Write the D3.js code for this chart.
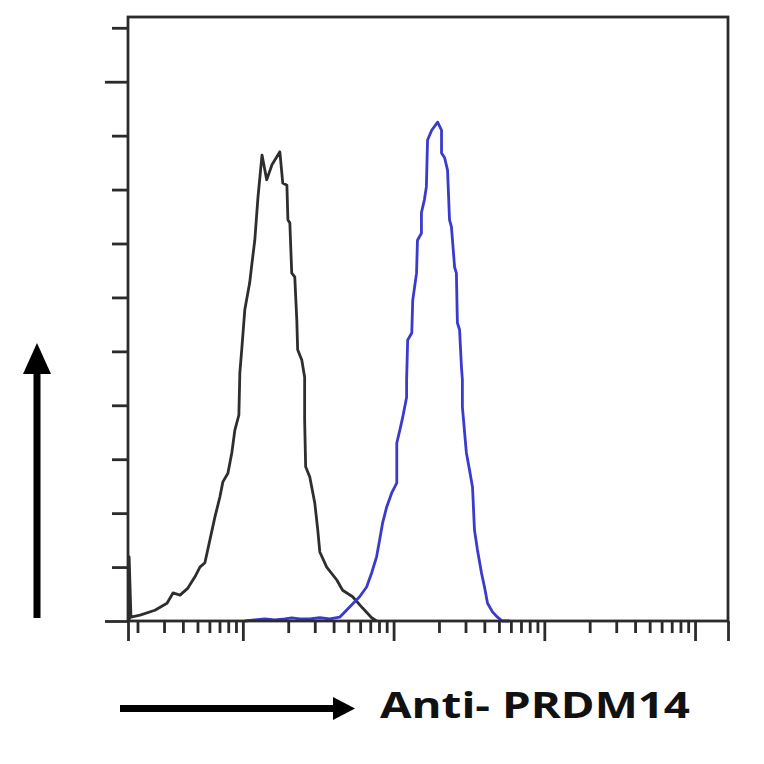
<!DOCTYPE html>
<html>
<head>
<meta charset="utf-8">
<script src="https://cdn.jsdelivr.net/npm/d3@7"></script>
<style>
  html, body { margin: 0; padding: 0; background: #fff; }
  svg { display: block; }
</style>
</head>
<body>
<svg id="chart" width="764" height="764"></svg>
<script>
// ---- data ----
const xDomain = [1.73, 16540];
const yDomain = [0, 112];
const yTicks = [0, 10, 20, 30, 40, 50, 60, 70, 80, 90, 100, 110];
const yLongTicks = [0, 100];
const xMajorTicks = [10, 100, 1000, 10000];
const xMinorTicks = [2,3,4,5,6,7,8,9, 20,30,40,50,60,70,80,90, 200,300,400,500,600,700,800,900, 2000,3000,4000,5000,6000,7000,8000,9000];
const xLabel = "Anti- PRDM14";

// isotype control (black)
const controlIntensity = [1.76,1.76,1.81,2.08,2.61,3.14,3.44,3.83,4.32,4.81,5.19,5.60,6.04,6.53,7.04,7.37,7.96,8.45,8.85,9.41,9.55,9.85,10.3,11.1,11.5,12.0,12.6,13.4,14.4,15.6,17.6,18.4,19.6,19.9,20.5,21.1,22.1,22.8,23.1,24.6,25.7,25.7,26.1,27.8,30.0,31.4,32.4,36.0,42.0,45.9,53.5,62.3,71.5,77.1];
const controlCount = [0,11.9,0.7,1.1,2.0,3.3,5.2,4.8,6.1,8.2,10.0,10.8,15.0,19.3,23.0,25.8,27.4,31.2,35.4,38.2,46.0,50.6,57.7,62.7,66.4,70.6,78.6,86.4,81.8,84.6,87.0,81.2,80.8,74.4,73.8,64.5,63.8,55.8,50.3,48.4,45.2,37.3,28.6,26.7,21.9,16.9,12.8,10.0,7.6,5.7,4.5,2.4,0.6,0];

// anti-PRDM14 (blue)
const sampleIntensity = [10.3,12.0,14.0,16.3,19.0,21.1,23.9,27.8,32.4,37.7,43.9,51.1,59.5,66.2,71.5,77.1,80.8,84.6,89.9,97.0,105,105,110,115,122,122,124,132,134,142,144,153,153,160,165,168,179,196,208,208,218,228,235,242,254,261,265,274,282,286,286,304,319,334,344,360,383,401,420,453,489,527,587];
const sampleCount = [0,0.2,0.4,0.2,0.4,0.6,0.4,0.4,0.6,0.4,0.7,2.6,4.5,6.3,8.9,11.9,15.0,18.2,21.1,23.7,25.6,33.0,35.4,37.8,41.5,44.7,52.1,53.4,59.5,64.5,70.6,71.9,75.7,78.1,80.5,89.2,91.0,92.5,91.0,86.8,85.9,83.6,74.4,73.1,65.6,64.5,55.3,54.0,47.1,44.7,39.7,31.2,28.0,24.8,16.9,13.2,8.9,6.3,3.3,1.7,0.7,0,0];

// ---- layout ----
const L = 128, R = 728, T = 17, B = 621;
const svg = d3.select("#chart");
const x = d3.scaleLog().domain(xDomain).range([L, R]);
const y = d3.scaleLinear().domain(yDomain).range([B, T]);
const axisColor = "#2b2b2b";

// curves
const line = d3.line().x(d => x(d[0])).y(d => y(d[1]));
svg.append("path")
  .datum(controlIntensity.map((v, i) => [v, controlCount[i]]))
  .attr("d", line).attr("fill", "none")
  .attr("stroke", "#2e2e2e").attr("stroke-width", 2.8).attr("stroke-linejoin", "round");
svg.append("path")
  .datum(sampleIntensity.map((v, i) => [v, sampleCount[i]]))
  .attr("d", line).attr("fill", "none")
  .attr("stroke", "#3a3acc").attr("stroke-width", 2.8).attr("stroke-linejoin", "round");

// frame
svg.append("rect").attr("x", L).attr("y", T).attr("width", R - L).attr("height", B - T)
  .attr("fill", "none").attr("stroke", axisColor).attr("stroke-width", 2.8);

// y axis ticks
const yAxisShort = d3.axisLeft(y).tickValues(yTicks.filter(t => !yLongTicks.includes(t)))
  .tickSize(16).tickFormat("");
const yAxisLong = d3.axisLeft(y).tickValues(yLongTicks).tickSize(23).tickFormat("");
[yAxisShort, yAxisLong].forEach(ax => {
  const g = svg.append("g").attr("transform", `translate(${L},0)`).call(ax);
  g.select(".domain").remove();
  g.selectAll("line").attr("stroke", axisColor).attr("stroke-width", 2.8);
});

// x axis ticks
const xMinorAxis = d3.axisBottom(x).tickValues(xMinorTicks).tickSize(12).tickFormat("");
const xMajorAxis = d3.axisBottom(x).tickValues(xMajorTicks.concat(xDomain)).tickSize(20).tickFormat("");
[xMinorAxis, xMajorAxis].forEach(ax => {
  const g = svg.append("g").attr("transform", `translate(0,${B})`).call(ax);
  g.select(".domain").remove();
  g.selectAll("line").attr("stroke", axisColor).attr("stroke-width", 2.8);
});

// arrows
svg.append("line").attr("x1", 37).attr("y1", 618).attr("x2", 37).attr("y2", 370)
  .attr("stroke", "#000").attr("stroke-width", 7);
svg.append("path").attr("d", "M37,343 L23,374 L51,374 Z").attr("fill", "#000");
svg.append("line").attr("x1", 120).attr("y1", 708.5).attr("x2", 337).attr("y2", 708.5)
  .attr("stroke", "#000").attr("stroke-width", 7);
svg.append("path").attr("d", "M355,708.5 L333,697 L333,720 Z").attr("fill", "#000");

// label
svg.append("text").attr("x", 380).attr("y", 718)
  .attr("font-family", "Open Sans, Liberation Sans, Arial, sans-serif")
  .attr("font-weight", "bold").attr("font-size", 35)
  .attr("textLength", 310).attr("lengthAdjust", "spacingAndGlyphs")
  .attr("fill", "#111").text(xLabel);
</script>
</body>
</html>
